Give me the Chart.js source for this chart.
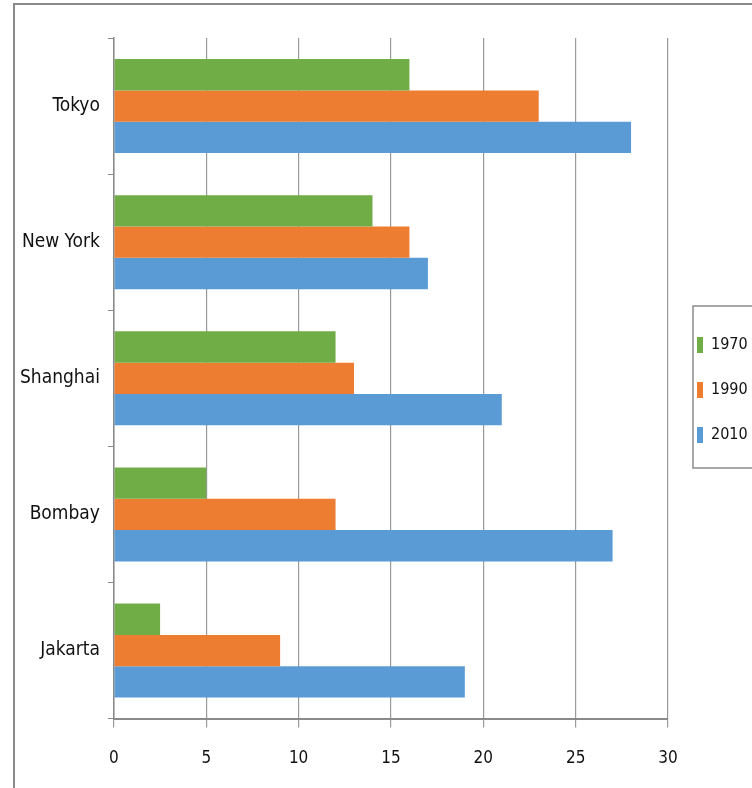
<!DOCTYPE html>
<html>
<head>
<meta charset="utf-8">
<script src="https://cdn.jsdelivr.net/npm/chart.js@4"></script>
<style>
    html, body { margin: 0; padding: 0; background: #fff; }
    #wrap { position: relative; width: 752px; height: 788px; }
    #frame { position: absolute; left: 13px; top: 3px; right: -10px; bottom: -10px; border-top: 2px solid #8a8a8a; border-left: 2px solid #8a8a8a; }
    canvas { position: absolute; left: 0; top: 0; }
</style>
</head>
<body>
<div id="wrap">
    <div id="frame"></div>
    <canvas id="chart" width="752" height="788"></canvas>
</div>
<script>
// 城市與年份
const cities = ['Tokyo', 'New York', 'Shanghai', 'Bombay', 'Jakarta'];
const years = ['1970', '1990', '2010'];

// 各年份數值
const values1970 = [16, 14, 12, 5, 2.5];
const values1990 = [23, 16, 13, 12, 9];
const values2010 = [28, 17, 21, 27, 19];

// x軸刻度
const xMin = 0;
const xMax = 30;
const xStep = 5;

const colors = ['#70AD47', '#ED7D31', '#5B9BD5'];
const fontFamily = "'DejaVu Sans Condensed', 'Liberation Sans Narrow', 'Liberation Sans', sans-serif";

// 圖例: 固定寬度、上移、畫外框
const legendBox = {
    id: 'legendBox',
    beforeLayout(chart) {
        const lg = chart.legend;
        if (lg && !lg._patched) {
            const fit = lg.fit;
            lg.fit = function () {
                fit.call(this);
                this.width = 84;
            };
            const draw = lg.draw;
            lg.draw = function () {
                const c = this.ctx;
                const shift = 390 - (this.top + this.bottom) / 2;
                c.save();
                c.translate(0, shift);
                draw.apply(this, arguments);
                c.restore();
            };
            lg._patched = true;
        }
    },
    afterDraw(chart) {
        const ctx = chart.ctx;
        ctx.save();
        ctx.strokeStyle = '#8a8a8a';
        ctx.lineWidth = 1.5;
        ctx.strokeRect(693, 306, 80, 162);
        ctx.restore();
    }
};

const ctx = document.getElementById('chart').getContext('2d');
new Chart(ctx, {
    type: 'bar',
    data: {
        labels: cities,
        datasets: [
            { label: years[0], data: values1970, backgroundColor: colors[0] },
            { label: years[1], data: values1990, backgroundColor: colors[1] },
            { label: years[2], data: values2010, backgroundColor: colors[2] }
        ]
    },
    options: {
        indexAxis: 'y',
        responsive: false,
        animation: false,
        devicePixelRatio: 1,
        layout: { padding: { top: 38, left: 12, right: 0, bottom: -2 } },
        datasets: {
            bar: { categoryPercentage: 0.69, barPercentage: 1.0 }
        },
        plugins: {
            legend: {
                position: 'right',
                align: 'center',
                labels: {
                    boxWidth: 6,
                    boxHeight: 16,
                    padding: 29,
                    color: '#111',
                    font: { family: fontFamily, size: 16 }
                }
            },
            tooltip: { enabled: false }
        },
        scales: {
            x: {
                min: xMin,
                max: xMax,
                ticks: {
                    stepSize: xStep,
                    color: '#111',
                    padding: 21,
                    font: { family: fontFamily, size: 17 }
                },
                grid: { color: '#9a9a9a', lineWidth: 1.2, tickLength: 9 },
                border: { color: '#8a8a8a', width: 2 }
            },
            y: {
                ticks: {
                    color: '#111',
                    padding: 8,
                    font: { family: fontFamily, size: 19 }
                },
                grid: { drawOnChartArea: false, color: '#8a8a8a', tickLength: 6 },
                border: { color: '#8a8a8a', width: 1.5 }
            }
        }
    },
    plugins: [legendBox]
});
</script>
</body>
</html>
